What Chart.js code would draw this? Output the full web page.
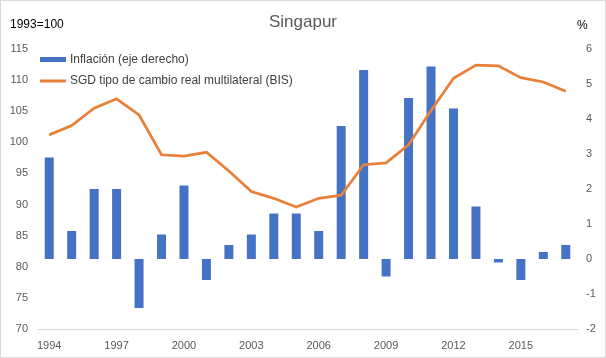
<!DOCTYPE html>
<html>
<head>
<meta charset="utf-8">
<script src="https://cdn.jsdelivr.net/npm/chart.js@4.4.1/dist/chart.umd.min.js"></script>
<style>
  html, body { margin: 0; padding: 0; background: #fff; }
  #wrap { width: 606px; height: 358px; }
</style>
</head>
<body>
<div id="wrap"><canvas id="chart" width="606" height="358"></canvas></div>
<script>
// Data
const years = ['1994','1995','1996','1997','1998','1999','2000','2001','2002','2003','2004','2005',
               '2006','2007','2008','2009','2010','2011','2012','2013','2014','2015','2016','2017'];
const inflation = [2.9, 0.8, 2.0, 2.0, -1.4, 0.7, 2.1, -0.6, 0.4, 0.7, 1.3, 1.3,
                   0.8, 3.8, 5.4, -0.5, 4.6, 5.5, 4.3, 1.5, -0.1, -0.6, 0.2, 0.4];
const reer = [101.2, 102.7, 105.5, 107.0, 104.4, 98.0, 97.8, 98.4, 95.4, 92.1, 91.0, 89.6,
              91.0, 91.5, 96.4, 96.7, 99.6, 105.1, 110.3, 112.4, 112.3, 110.4, 109.7, 108.2];
const leftTicks = { min: 70, max: 115, step: 5 };
const rightTicks = { min: -2, max: 6, step: 1 };

const FONT = "'Liberation Sans', Arial, sans-serif";
const BLUE = '#4472C4';
const ORANGE = '#E8803A';
const GREY = '#595959';

// Texts outside the axes + legend inside the plot
const decorations = {
    id: 'decorations',
    afterDraw(chart) {
        const ctx = chart.ctx;
        ctx.save();
        ctx.textBaseline = 'middle';

        ctx.fillStyle = GREY;
        ctx.font = '17px ' + FONT;
        ctx.textAlign = 'center';
        ctx.fillText('Singapur', 303, 22);

        ctx.fillStyle = '#000';
        ctx.font = '12px ' + FONT;
        ctx.textAlign = 'left';
        ctx.fillText('1993=100', 10, 25);
        ctx.fillText('%', 577, 26);

        // legend
        const ds = chart.data.datasets;
        ctx.font = '12px ' + FONT;
        ctx.fillStyle = ds[0].backgroundColor;
        ctx.fillRect(40, 57, 26, 5);
        ctx.fillStyle = '#404040';
        ctx.fillText(ds[0].label, 70, 60);

        ctx.strokeStyle = ds[1].borderColor;
        ctx.lineWidth = 3;
        ctx.beginPath();
        ctx.moveTo(40, 81);
        ctx.lineTo(66, 81);
        ctx.stroke();
        ctx.fillText(ds[1].label, 70, 81);

        // outer frame
        ctx.strokeStyle = '#d9d9d9';
        ctx.lineWidth = 1;
        ctx.strokeRect(0.5, 0.5, 605, 357);
        ctx.restore();
    }
};

const whiteBg = {
    id: 'whiteBg',
    beforeDraw(chart) {
        const ctx = chart.ctx;
        ctx.save();
        ctx.fillStyle = '#fff';
        ctx.fillRect(0, 0, chart.width, chart.height);
        ctx.restore();
    }
};

new Chart(document.getElementById('chart'), {
    data: {
        labels: years,
        datasets: [
            {
                type: 'bar',
                label: 'Inflación (eje derecho)',
                data: inflation,
                yAxisID: 'y1',
                backgroundColor: BLUE,
                barPercentage: 0.8,
                categoryPercentage: 0.5,
                order: 2
            },
            {
                type: 'line',
                label: 'SGD tipo de cambio real multilateral (BIS)',
                data: reer,
                yAxisID: 'y',
                borderColor: ORANGE,
                borderWidth: 2.75,
                pointRadius: 0,
                tension: 0,
                order: 1
            }
        ]
    },
    options: {
        responsive: false,
        animation: false,
        layout: { padding: { top: 49, left: 0, right: 0, bottom: 0 } },
        plugins: {
            legend: { display: false },
            title: { display: false },
            tooltip: { enabled: false }
        },
        scales: {
            x: {
                type: 'category',
                offset: true,
                grid: { display: false, drawTicks: false },
                border: { display: true, color: '#d9d9d9', width: 1 },
                ticks: {
                    autoSkip: false,
                    maxRotation: 0,
                    padding: 10,
                    color: GREY,
                    font: { family: FONT, size: 11 },
                    callback: (v, i) => (i % 3 === 0 ? years[i] : '')
                },
                afterFit: s => { s.height = 29; }
            },
            y: {
                position: 'left',
                min: leftTicks.min,
                max: leftTicks.max,
                grid: { display: false, drawTicks: false },
                border: { display: false },
                ticks: {
                    stepSize: leftTicks.step,
                    padding: 10,
                    color: GREY,
                    font: { family: FONT, size: 11 }
                },
                afterFit: s => { s.width = 38; }
            },
            y1: {
                position: 'right',
                min: rightTicks.min,
                max: rightTicks.max,
                grid: { display: false, drawTicks: false },
                border: { display: false },
                ticks: {
                    stepSize: rightTicks.step,
                    padding: 9,
                    color: GREY,
                    font: { family: FONT, size: 11 }
                },
                afterFit: s => { s.width = 29; }
            }
        }
    },
    plugins: [whiteBg, decorations]
});
</script>
</body>
</html>
